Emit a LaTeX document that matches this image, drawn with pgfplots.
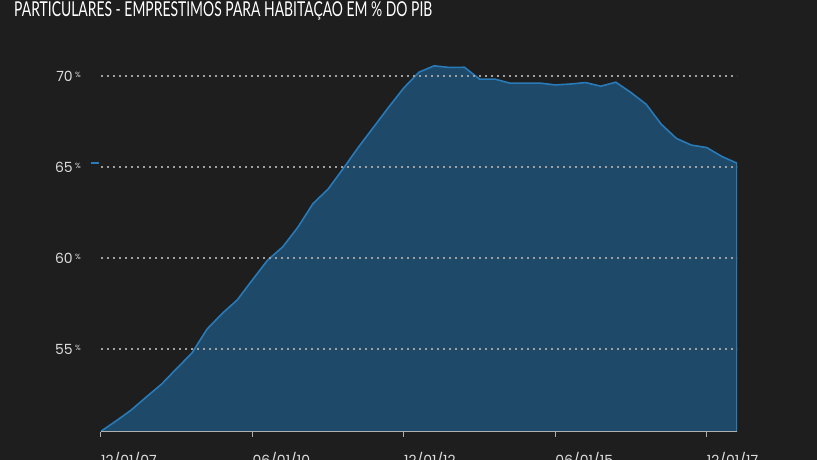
\documentclass[border=0pt]{standalone}
\usepackage{pgfplots}
\pgfplotsset{compat=1.18}
\usepackage{fontspec}
\setmainfont{Poppins}
\newfontfamily\titlefont{Lato}
\definecolor{bg}{RGB}{30,30,30}
\definecolor{areafill}{RGB}{30,73,104}
\definecolor{arealine}{RGB}{40,122,184}
\definecolor{gridc}{RGB}{160,160,160}
\definecolor{labc}{RGB}{220,220,220}
\newcommand{\tl}{\fontsize{14}{14}\selectfont}
\begin{document}
\begin{tikzpicture}[x=1pt,y=1pt]
\useasboundingbox (0,0) rectangle (817,460);
\clip (0,0) rectangle (817,460);
\fill[bg] (0,0) rectangle (817,460);
\node[anchor=base west, inner sep=0pt, text=white] at (14,443.5)
  {\resizebox{418pt}{\height}{\titlefont\fontsize{20.5}{20.5}\selectfont PARTICULARES - EMPRESTIMOS PARA HABITAÇAO EM \% DO PIB}};
\begin{axis}[
  at={(101pt,28pt)}, anchor=south west,
  scale only axis, width=636pt, height=392.2pt,
  xmin=0, xmax=42, ymin=50.45, ymax=72,
  clip mode=individual,
  axis on top,
  axis x line*=bottom,
  axis y line*=left,
  y axis line style={draw=none},
  x axis line style={draw=labc!80!black, line width=1pt},
  xtick={0,10,20,30,40},
  xticklabels={{\tl 12/01/07},{\tl 06/01/10},{\tl 12/01/12},{\tl 06/01/15},{\tl 12/01/17}},
  xtick style={draw=labc!80!black, line width=1pt},
  major tick length=5pt,
  tick align=outside,
  ytick={55,60,65,70},
  ytick style={draw=none},
  yticklabel={\tl\pgfmathprintnumber{\tick}\,\raisebox{0.33em}{\fontsize{7.5}{7.5}\selectfont\%}},
  ymajorgrids,
  grid style={draw=gridc, line width=1.6pt, dash pattern=on 1.6pt off 4.4pt, line cap=butt},
  /pgf/number format/assume math mode=true,
  xticklabel style={anchor=north west, inner sep=0pt, yshift=-15pt, text=labc},
  yticklabel style={anchor=base east, inner sep=0pt, xshift=-15pt, yshift=-5.5pt, text=labc},
]
\addplot[draw=arealine, line width=1.6pt, fill=areafill] coordinates {
(0,50.49)(1,51.06)(2,51.66)(3,52.38)(4,53.08)(5,53.94)(6,54.78)(7,56.10)
(8,56.96)(9,57.71)(10,58.81)(11,59.89)(12,60.62)(13,61.70)(14,63.00)(15,63.80)
(16,64.93)(17,66.10)(18,67.20)(19,68.30)(20,69.36)(21,70.22)(22,70.57)(23,70.48)
(24,70.49)(25,69.84)(26,69.84)(27,69.62)(28,69.62)(29,69.62)(30,69.52)(31,69.57)
(32,69.65)(33,69.45)(34,69.67)(35,69.10)(36,68.46)(37,67.36)(38,66.58)(39,66.21)
(40,66.08)(41,65.59)(42,65.22)
} \closedcycle;
\addplot[forget plot, clip=false, draw=arealine, line width=2.6pt] coordinates {(-0.68,65.22)(-0.1,65.22)};
\end{axis}
\end{tikzpicture}
\end{document}
